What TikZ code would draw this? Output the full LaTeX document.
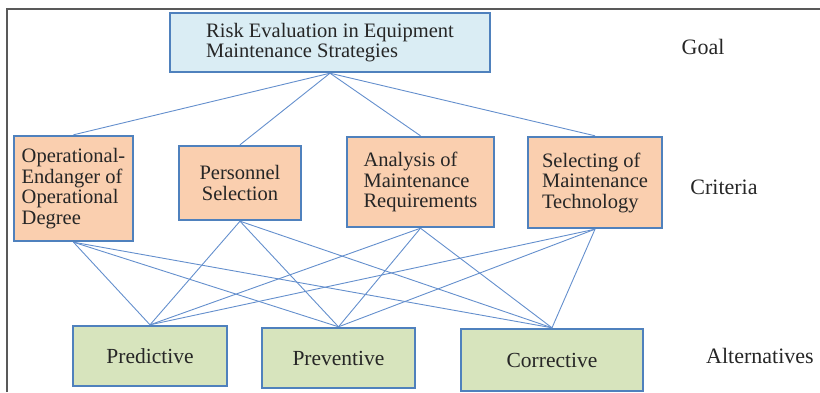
\documentclass[tikz,border=0pt]{standalone}
\usepackage{fontspec}
\setmainfont{Liberation Serif}
\definecolor{boxline}{RGB}{79,129,189}
\definecolor{goalfill}{RGB}{218,237,244}
\definecolor{critfill}{RGB}{250,207,175}
\definecolor{altfill}{RGB}{215,228,189}
\definecolor{linkline}{RGB}{100,143,205}
\begin{document}
\begin{tikzpicture}[x=1pt,y=-1pt,
	box/.style={draw=boxline, line width=2.4pt, inner sep=0pt, text=black!85,
		font=\fontsize{20.5}{20.5}\selectfont},
	goalbox/.style={box, fill=goalfill, minimum width=320pt, minimum height=59pt, align=left},
	critbox/.style={box, fill=critfill, align=left},
	altbox/.style={box, fill=altfill, minimum height=60pt, font=\fontsize{21.5}{21.5}\selectfont},
	level/.style={text=black!85, font=\fontsize{22}{22}\selectfont},
	link/.style={draw=linkline, line width=0.9pt}]
				\useasboundingbox (0,0) rectangle (820,392);
				\draw[line width=2pt, black!65] (7,392) -- (7,9) -- (820,9);
				\draw (330,42.5) node[goalbox] (g) {Risk Evaluation in Equipment\\Maintenance Strategies};
				\draw (73.5,188.5) node[critbox, minimum width=119pt, minimum height=105pt] (c1) {Operational-\\Endanger of\\Operational\\Degree};
				\draw (240,183) node[critbox, minimum width=122pt, minimum height=74pt, align=center] (c2) {Personnel\\Selection};
				\draw (420.5,182) node[critbox, minimum width=147pt, minimum height=90pt] (c3) {Analysis of\\Maintenance\\Requirements};
				\draw (595,182.5) node[critbox, minimum width=134pt, minimum height=91pt] (c4) {Selecting of\\Maintenance\\Technology};
				\draw (150,356) node[altbox, minimum width=154pt] (a1) {Predictive};
				\draw (338.5,358) node[altbox, minimum width=153pt] (a2) {Preventive};
				\draw (552,360) node[altbox, minimum width=182pt, minimum height=62pt] (a3) {Corrective};
				\draw (703,47) node[level] (goal) {Goal};
				\draw (724,187) node[level] (crit) {Criteria};
				\draw (760,356) node[level] (alt) {Alternatives};
				\foreach \c in {c1,c2,c3,c4} {
					\draw[link] (g.south) -- (\c.north);
					\foreach \a in {a1,a2,a3}
						\draw[link] (\c.south) -- (\a.north);
				}
			\end{tikzpicture}
\end{document}
